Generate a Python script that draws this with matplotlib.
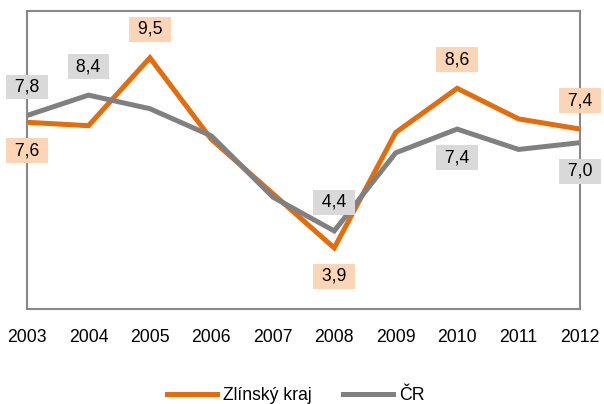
import numpy as np
import matplotlib.pyplot as plt

plt.rcParams['font.family'] = ['Liberation Sans', 'DejaVu Sans']

years = [2003, 2004, 2005, 2006, 2007, 2008, 2009, 2010, 2011, 2012]
zlin = [7.6, 7.5, 9.5, 7.1, 5.5, 3.9, 7.3, 8.6, 7.7, 7.4]
cr = [7.8, 8.4, 8.0, 7.2, 5.4, 4.4, 6.7, 7.4, 6.8, 7.0]

# which points get a label, and above (+1) or below (-1)
zlin_labels = {2003: -1, 2005: 1, 2008: -1, 2010: 1, 2012: 1}
cr_labels = {2003: 1, 2004: 1, 2008: 1, 2010: -1, 2012: -1}

orange = '#E46C0A'
gray = '#808080'

fig = plt.figure(figsize=(6.04, 4.04), dpi=100)
ax = fig.add_axes([0.0447, 0.235, 0.9156, 0.738])

ax.plot(years, zlin, color=orange, lw=3.6, label='Zlínský kraj', solid_joinstyle='miter')
ax.plot(years, cr, color=gray, lw=3.6, label='ČR', solid_joinstyle='miter')

def label(series, which, face):
    for yr, v in zip(years, series):
        if yr in which:
            d = which[yr]
            txt = ' ' + f'{v:.1f}'.replace('.', ',') + ' '
            ax.annotate(txt, (yr, v),
                        xytext=(0, 20.5 * d), textcoords='offset points',
                        ha='center', va='center', fontsize=12.7,
                        bbox=dict(boxstyle='square,pad=0.22', fc=face, ec='none'),
                        annotation_clip=False, zorder=5)

label(zlin, zlin_labels, '#FBD5B5')
label(cr, cr_labels, '#D9D9D9')

ax.set_xlim(2003, 2012)
ax.set_ylim(2.1, 10.88)
ax.set_xticks(years)
ax.set_yticks([])
ax.tick_params(axis='x', length=0, pad=14, labelsize=12.7)
for s in ax.spines.values():
    s.set_color('#888888')
    s.set_linewidth(1.5)

fig.legend(loc='lower center', bbox_to_anchor=(0.49, -0.04), ncol=2,
           frameon=False, fontsize=12.7, handlelength=2.8, columnspacing=1.8,
           handletextpad=0.35)

fig.savefig('out.png', dpi=100)
